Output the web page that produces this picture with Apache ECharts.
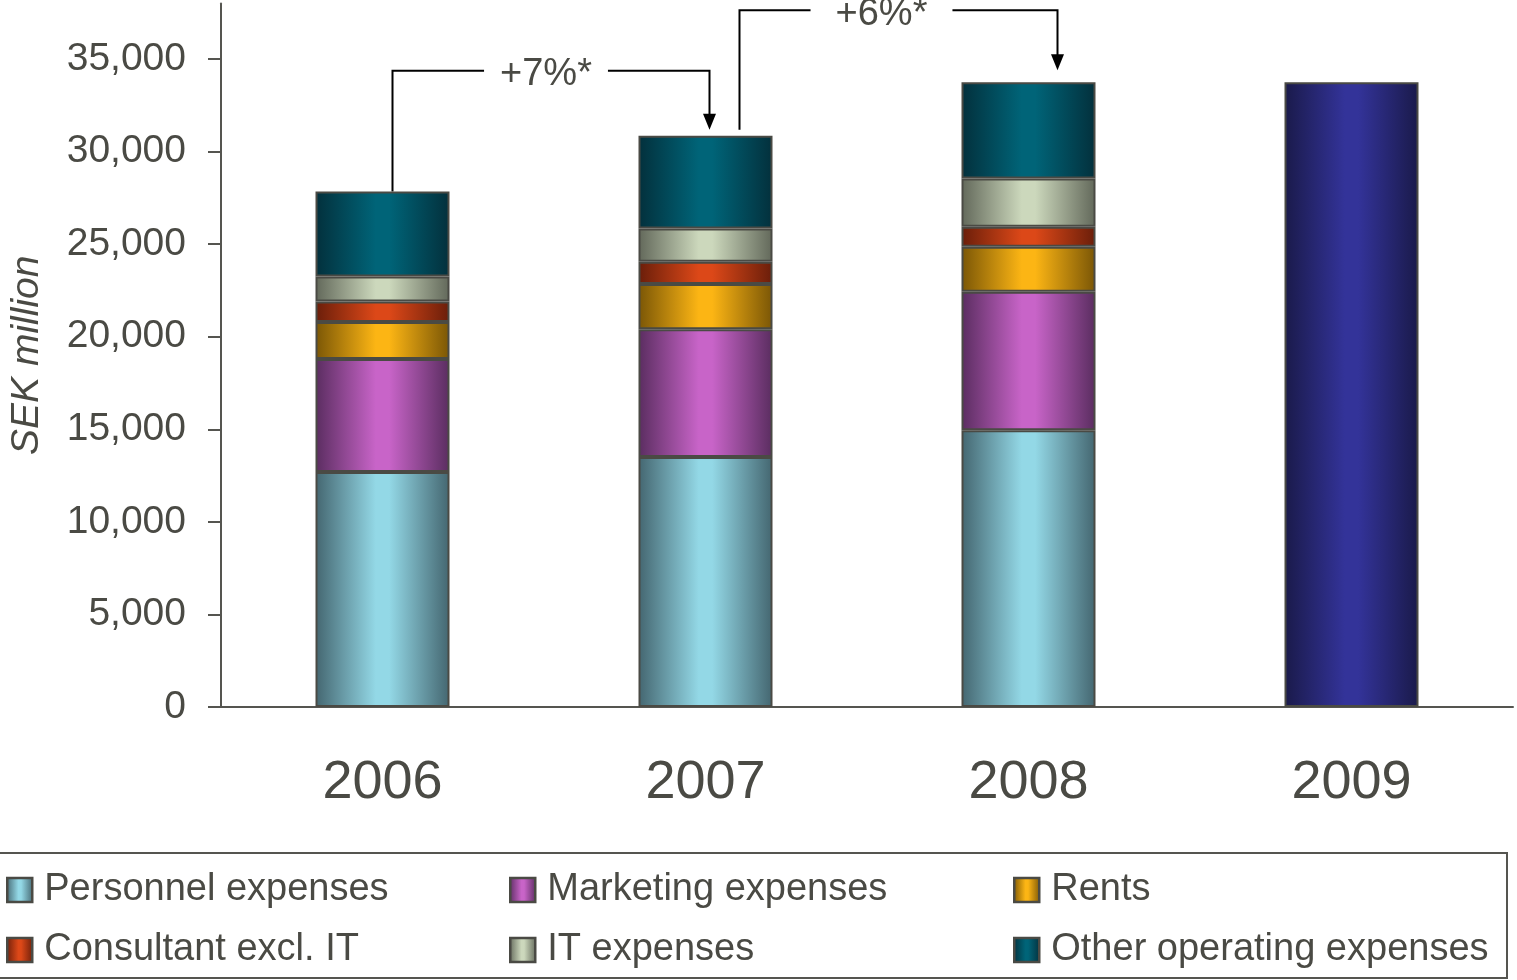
<!DOCTYPE html>
<html>
<head>
<meta charset="utf-8">
<title>Operating expenses 2006–2009</title>
<script src="https://cdn.jsdelivr.net/npm/echarts@6/dist/echarts.min.js"></script>
<style>
  html, body { margin: 0; padding: 0; background: #ffffff; }
  #chart { width: 1517px; height: 980px; }
</style>
</head>
<body>
<div id="chart"></div>
<script>
// Years on the category axis
const years = ['2006', '2007', '2008', '2009'];

// Cost components, SEK million
const personnel  = [12700, 13500, 14950, '-'];
const marketing  = [6100, 6900, 7480, '-'];
const rents      = [2000, 2450, 2430, '-'];
const consultant = [1100, 1200, 1080, '-'];
const itExpenses = [1350, 1800, 2610, '-'];
const otherOpex  = [4600, 5000, 5200, '-'];
// 2009 shown as a single total bar
const total2009  = ['-', '-', '-', 33750];

// Value axis ticks
const yTicks = [0, 5000, 10000, 15000, 20000, 25000, 30000, 35000];

// Year-on-year growth call-outs
const growthNotes = [
  { from: 0, to: 1, text: '+7%*' },
  { from: 1, to: 2, text: '+6%*' }
];

const TEXT = '#4a4a44';
const AXIS = '#555550';
const FONT = '"Liberation Sans", Arial, sans-serif';

function barGradient(edge, mid) {
  return new echarts.graphic.LinearGradient(0, 0, 1, 0, [
    { offset: 0, color: edge },
    { offset: 0.45, color: mid },
    { offset: 0.55, color: mid },
    { offset: 1, color: edge }
  ]);
}

const seriesDefs = [
  { name: 'Personnel expenses', data: personnel, edge: '#446670', mid: '#93d8e6' },
  { name: 'Marketing expenses', data: marketing, edge: '#5a2d60', mid: '#c864c8' },
  { name: 'Rents', data: rents, edge: '#7a5606', mid: '#fcb514' },
  { name: 'Consultant excl. IT', data: consultant, edge: '#6a1e0a', mid: '#dc4818' },
  { name: 'IT expenses', data: itExpenses, edge: '#62685a', mid: '#ccd8bc' },
  { name: 'Other operating expenses', data: otherOpex, edge: '#03303c', mid: '#006478' },
  { name: 'Total 2009', data: total2009, edge: '#1a1a4a', mid: '#333399' }
];

const swatch = {};
seriesDefs.forEach(s => { swatch[s.name] = s; });

const series = seriesDefs.map(s => ({
  name: s.name,
  type: 'bar',
  stack: 'costs',
  barWidth: 134,
  data: s.data,
  itemStyle: {
    color: barGradient(s.edge, s.mid),
    borderColor: '#4a4a44',
    borderWidth: 2
  },
  emphasis: { disabled: true }
}));

function legendBlock(names, left) {
  return {
    data: names.map(n => ({
      name: n,
      itemStyle: {
        color: barGradient(swatch[n].edge, swatch[n].mid),
        borderColor: '#4a4a44',
        borderWidth: 2.5
      }
    })),
    orient: 'vertical',
    left: left,
    top: 866,
    itemWidth: 25,
    itemHeight: 24,
    itemGap: 22,
    icon: 'rect',
    selectedMode: false,
    textStyle: { color: TEXT, fontSize: 38, fontFamily: FONT, padding: [0, 0, 0, 7] }
  };
}

const chart = echarts.init(document.getElementById('chart'), null, { renderer: 'canvas' });

chart.setOption({
  animation: false,
  backgroundColor: '#ffffff',
  grid: { left: 220, right: 4, top: 3.5, bottom: 273, containLabel: false },
  xAxis: {
    type: 'category',
    data: years,
    axisLine: { lineStyle: { color: AXIS, width: 2 } },
    axisTick: { length: 13, lineStyle: { color: AXIS, width: 2 } },
    axisLabel: { color: TEXT, fontSize: 54, fontFamily: FONT, margin: 49 }
  },
  yAxis: {
    type: 'value',
    min: 0,
    max: 38000,
    interval: 5000,
    name: 'SEK million',
    nameLocation: 'middle',
    nameRotate: 90,
    nameGap: 174,
    nameTextStyle: { color: TEXT, fontSize: 39, fontStyle: 'italic', fontFamily: FONT },
    axisLine: { show: true, lineStyle: { color: AXIS, width: 2 } },
    axisTick: { show: true, length: 13, customValues: yTicks, lineStyle: { color: AXIS, width: 2 } },
    axisLabel: {
      color: TEXT, fontSize: 39, fontFamily: FONT, margin: 35,
      customValues: yTicks,
      formatter: v => v.toLocaleString('en-US')
    },
    splitLine: { show: false }
  },
  legend: [
    legendBlock(['Personnel expenses', 'Consultant excl. IT'], 1),
    legendBlock(['Marketing expenses', 'IT expenses'], 504),
    legendBlock(['Rents', 'Other operating expenses'], 1008)
  ],
  series: series
});

// Column totals for the growth call-outs
const allStacks = [personnel, marketing, rents, consultant, itExpenses, otherOpex, total2009];
const totals = years.map((_, i) => allStacks.reduce((sum, arr) => sum + (typeof arr[i] === 'number' ? arr[i] : 0), 0));

// Connector geometry (pixel offsets from bar centres and tops)
const noteLayout = [
  { startDx: 10, endDx: 4, startGap: 0, tipGap: 6, rise: 65, labelDx: -5, pad: 16 },
  { startDx: 34, endDx: 29, startGap: 6, tipGap: 12, rise: 72, labelDx: -17, pad: 25 }
];

const graphics = [];
growthNotes.forEach((note, k) => {
  const lay = noteLayout[k];
  const a = chart.convertToPixel({ gridIndex: 0 }, [note.from, totals[note.from]]);
  const b = chart.convertToPixel({ gridIndex: 0 }, [note.to, totals[note.to]]);
  const x1 = a[0] + lay.startDx;
  const y1 = a[1] - lay.startGap;
  const x2 = b[0] + lay.endDx;
  const tipY = b[1] - lay.tipGap;
  const levelY = b[1] - lay.rise;
  graphics.push({
    type: 'polyline',
    silent: true,
    shape: { points: [[x1, y1], [x1, levelY], [x2, levelY], [x2, tipY - 14]] },
    style: { stroke: '#000', lineWidth: 2, fill: null }
  });
  graphics.push({
    type: 'polygon',
    silent: true,
    shape: { points: [[x2 - 6.5, tipY - 16], [x2 + 6.5, tipY - 16], [x2, tipY]] },
    style: { fill: '#000' }
  });
  graphics.push({
    type: 'text',
    silent: true,
    x: (x1 + x2) / 2 + lay.labelDx,
    y: levelY + 4,
    style: {
      text: note.text,
      fill: TEXT,
      fontSize: 38,
      fontFamily: FONT,
      align: 'center',
      verticalAlign: 'middle',
      backgroundColor: '#ffffff',
      padding: [0, lay.pad]
    }
  });
});

// Frame around the legend
graphics.push({
  type: 'rect',
  silent: true,
  z: -1,
  shape: { x: -1, y: 853, width: 1508, height: 125 },
  style: { fill: null, stroke: AXIS, lineWidth: 2 }
});

chart.setOption({ graphic: graphics });
</script>
</body>
</html>
